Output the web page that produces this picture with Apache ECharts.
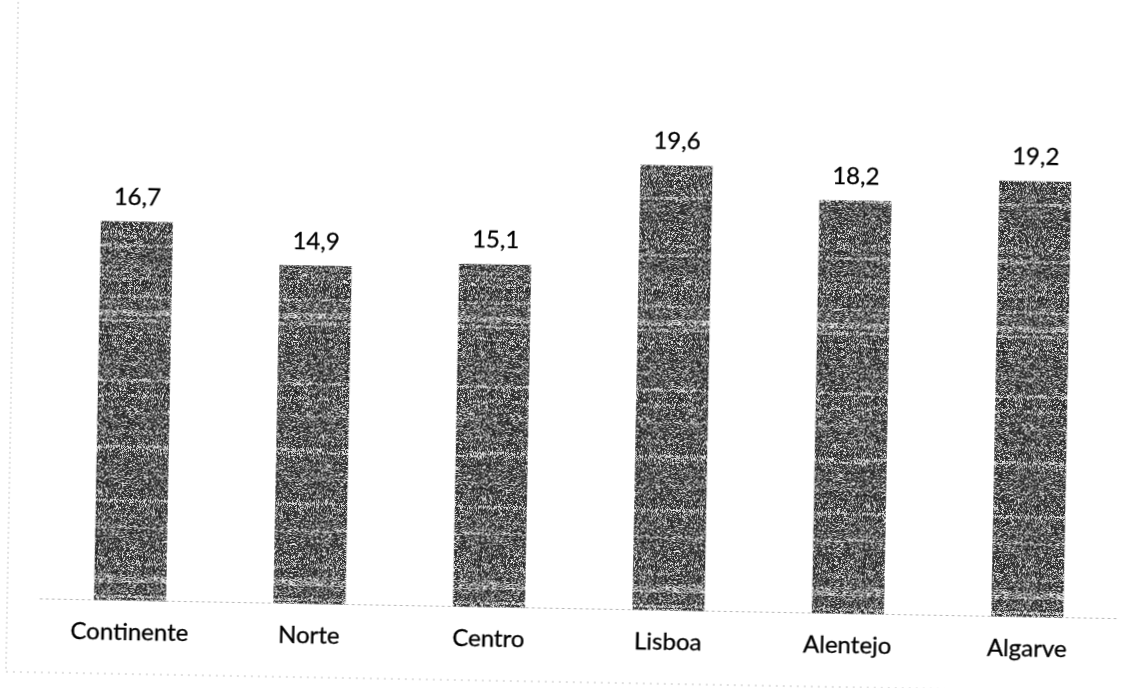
<!DOCTYPE html>
<html>
<head>
<meta charset="utf-8">
<script src="https://cdn.jsdelivr.net/npm/echarts@6/dist/echarts.min.js"></script>
<style>
  html, body { margin: 0; padding: 0; background: #fff; overflow: hidden; }
  #chart { width: 1135px; height: 688px; transform: rotate(1.05deg); transform-origin: 50% 50%; }
</style>
</head>
<body>
<div id="chart"></div>
<script>
// Regions of mainland Portugal and their values (%)
const regions = ['Continente', 'Norte', 'Centro', 'Lisboa', 'Alentejo', 'Algarve'];
const values = [16.7, 14.9, 15.1, 19.6, 18.2, 19.2];

// Grainy dark-grey fill for the bars, like a printed halftone
function grainTexture(w, h) {
  const c = document.createElement('canvas');
  c.width = w; c.height = h;
  const ctx = c.getContext('2d');
  const img = ctx.createImageData(w, h);
  const ih = (a) => {
    a = Math.imul(a ^ (a >>> 16), 0x45d9f3b);
    a = Math.imul(a ^ (a >>> 16), 0x45d9f3b);
    a ^= a >>> 16;
    return (a >>> 0) / 4294967296;
  };
  const h2 = (x, y, s) => ih((x * 73856093) ^ (y * 19349663) ^ (s * 83492791));
  for (let y = 0; y < h; y++) {
    // paler bands of a few rows give the horizontal streaks
    const band = ih(Math.floor(y / 3) * 2654435761 + 11);
    let dark = 0.72;
    if (band > 0.93) dark = 0.4;
    else if (band > 0.8) dark = 0.56;
    for (let x = 0; x < w; x++) {
      const v = h2(x, y, 1) < dark ? 25 + h2(x, y, 2) * 60 : 160 + h2(x, y, 3) * 90;
      const i = (y * w + x) * 4;
      img.data[i] = img.data[i + 1] = img.data[i + 2] = v;
      img.data[i + 3] = 255;
    }
  }
  ctx.putImageData(img, 0, 0);
  return c;
}

const chart = echarts.init(document.getElementById('chart'), null, { renderer: 'canvas' });
const font = 'Lato, "Open Sans", sans-serif';
const textStyle = { color: '#000', fontFamily: font, fontSize: 24, textBorderColor: '#000', textBorderWidth: 0.3 };

chart.setOption({
  animation: false,
  backgroundColor: '#fff',
  grid: { left: 45, right: 13, top: 41, bottom: 79.5 },
  xAxis: {
    type: 'category',
    data: regions,
    axisLine: { show: true, lineStyle: { color: '#b8b8b8', width: 1, type: [2, 4] } },
    axisTick: { show: false },
    axisLabel: Object.assign({ margin: 20 }, textStyle)
  },
  yAxis: {
    type: 'value',
    min: 0,
    max: 25,
    show: false,
    splitLine: { show: false }
  },
  series: [{
    type: 'bar',
    data: values,
    barWidth: 72,
    itemStyle: { color: { image: grainTexture(128, 600), repeat: 'repeat' } },
    label: Object.assign({
      show: true,
      position: 'top',
      distance: 12,
      formatter: (p) => p.value.toFixed(1).replace('.', ',')
    }, textStyle)
  }],
  graphic: [
    { type: 'line', shape: { x1: 12, y1: 12, x2: 12, y2: 682 }, style: { stroke: '#c4c4c4', lineWidth: 1, lineDash: [2, 3] }, silent: true },
    { type: 'line', shape: { x1: 12, y1: 682, x2: 1060, y2: 682 }, style: { stroke: '#c4c4c4', lineWidth: 1, lineDash: [2, 5] }, silent: true }
  ]
});
</script>
</body>
</html>
